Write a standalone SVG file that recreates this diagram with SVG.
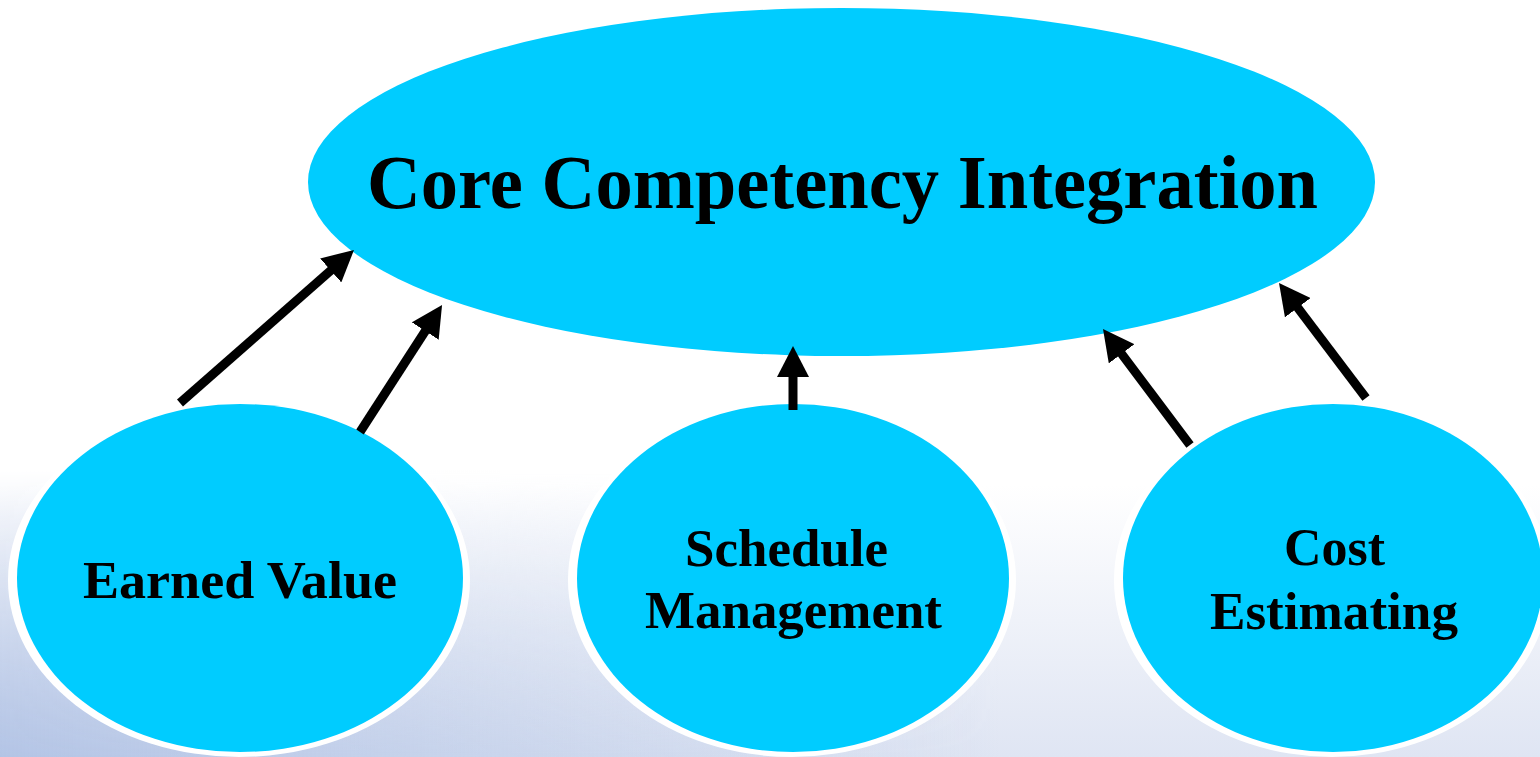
<svg xmlns="http://www.w3.org/2000/svg" width="1540" height="757" viewBox="0 0 1540 757">
<defs>
<linearGradient id="bgv" x1="0" y1="0" x2="0" y2="757" gradientUnits="userSpaceOnUse">
<stop offset="0" stop-color="#ffffff"/>
<stop offset="0.64" stop-color="#ffffff"/>
<stop offset="1" stop-color="#dfe5f3"/>
</linearGradient>
<linearGradient id="bgh" x1="0" y1="0" x2="1000" y2="0" gradientUnits="userSpaceOnUse">
<stop offset="0" stop-color="#b3c4e5" stop-opacity="1"/>
<stop offset="1" stop-color="#b3c4e5" stop-opacity="0"/>
</linearGradient>
<linearGradient id="mv" x1="0" y1="470" x2="0" y2="757" gradientUnits="userSpaceOnUse">
<stop offset="0" stop-color="#000"/>
<stop offset="1" stop-color="#fff"/>
</linearGradient>
<mask id="m1"><rect x="0" y="0" width="1540" height="757" fill="url(#mv)"/></mask>
<marker id="ah" viewBox="0 0 31 32" refX="4" refY="16" markerWidth="31" markerHeight="32" markerUnits="userSpaceOnUse" orient="auto">
<path d="M0,0 L31,16 L0,32 Z" fill="#000"/>
</marker>
<style>
.node{fill:#00ccff;}
.ring{fill:#ffffff;}
.lbl{font-family:"Liberation Serif","Times New Roman",serif;font-weight:bold;fill:#000;text-anchor:middle;}
.conn line{stroke:#000;stroke-width:9;marker-end:url(#ah);}
</style>
</defs>
<rect x="0" y="0" width="1540" height="757" fill="url(#bgv)"/>
<rect x="0" y="0" width="1540" height="757" fill="url(#bgh)" mask="url(#m1)"/>

<g id="core">
<ellipse class="node" cx="841.5" cy="182" rx="533.5" ry="174"/>
<text class="lbl" x="842.5" y="208" font-size="77" textLength="951" lengthAdjust="spacingAndGlyphs">Core Competency Integration</text>
</g>

<g id="earned-value">
<ellipse class="ring" cx="239" cy="580" rx="231" ry="177"/>
<ellipse class="node" cx="240" cy="578" rx="223" ry="174"/>
<text class="lbl" x="240" y="598" font-size="53" textLength="314" lengthAdjust="spacingAndGlyphs">Earned Value</text>
</g>

<g id="schedule-management">
<ellipse class="ring" cx="792" cy="580" rx="224" ry="177"/>
<ellipse class="node" cx="793" cy="578" rx="216" ry="174"/>
<text class="lbl" x="786.5" y="566" font-size="53" textLength="203" lengthAdjust="spacingAndGlyphs">Schedule</text>
<text class="lbl" x="793.5" y="628" font-size="53" textLength="297" lengthAdjust="spacingAndGlyphs">Management</text>
</g>

<g id="cost-estimating">
<ellipse class="ring" cx="1332" cy="580" rx="218" ry="177"/>
<ellipse class="node" cx="1333" cy="578" rx="210" ry="174"/>
<text class="lbl" x="1334.5" y="565" font-size="53" textLength="101" lengthAdjust="spacingAndGlyphs">Cost</text>
<text class="lbl" x="1334" y="629" font-size="53" textLength="248" lengthAdjust="spacingAndGlyphs">Estimating</text>
</g>

<g id="connectors" class="conn">
<line x1="180" y1="403" x2="333.7" y2="267.8"/>
<line x1="360" y1="432" x2="427.4" y2="327.7"/>
<line x1="793" y1="410" x2="793" y2="373"/>
<line x1="1190" y1="445" x2="1119.2" y2="350.6"/>
<line x1="1366" y1="398" x2="1295.3" y2="304.5"/>
</g>
</svg>
